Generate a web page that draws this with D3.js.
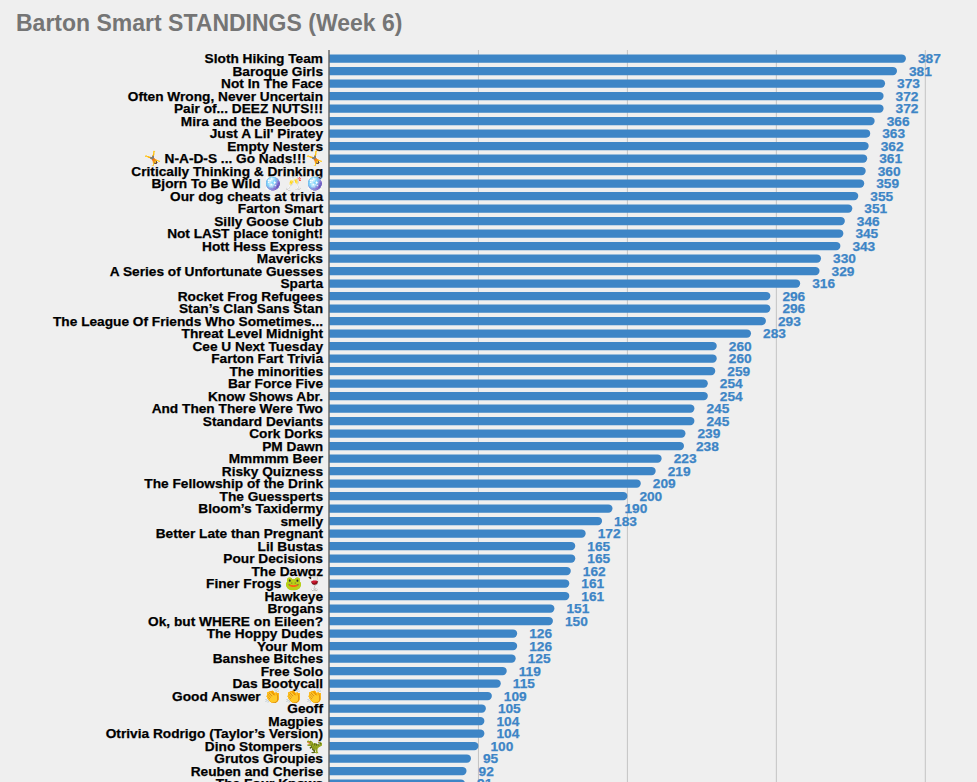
<!DOCTYPE html>
<html>
<head>
<meta charset="utf-8">
<script src="https://cdn.jsdelivr.net/npm/d3@7"></script>
<style>
  body { margin: 0; background: #efefef; font-family: Arial, "Liberation Sans", sans-serif; }
</style>
</head>
<body>
<script>
// standings data
var teams = [
  "Sloth Hiking Team", "Baroque Girls", "Not In The Face", "Often Wrong, Never Uncertain",
  "Pair of... DEEZ NUTS!!!", "Mira and the Beeboos", "Just A Lil' Piratey", "Empty Nesters",
  "🤸 N-A-D-S ... Go Nads!!!🤸", "Critically Thinking & Drinking", "Bjorn To Be Wild 🪩 🥂 🪩",
  "Our dog cheats at trivia", "Farton Smart", "Silly Goose Club", "Not LAST place tonight!",
  "Hott Hess Express", "Mavericks", "A Series of Unfortunate Guesses", "Sparta",
  "Rocket Frog Refugees", "Stan’s Clan Sans Stan", "The League Of Friends Who Sometimes...",
  "Threat Level Midnight", "Cee U Next Tuesday", "Farton Fart Trivia", "The minorities",
  "Bar Force Five", "Know Shows Abr.", "And Then There Were Two", "Standard Deviants",
  "Cork Dorks", "PM Dawn", "Mmmmm Beer", "Risky Quizness", "The Fellowship of the Drink",
  "The Guessperts", "Bloom’s Taxidermy", "smelly", "Better Late than Pregnant", "Lil Bustas",
  "Pour Decisions", "The Dawgz", "Finer Frogs 🐸 🍷", "Hawkeye", "Brogans",
  "Ok, but WHERE on Eileen?", "The Hoppy Dudes", "Your Mom", "Banshee Bitches", "Free Solo",
  "Das Bootycall", "Good Answer 👏 👏 👏", "Geoff", "Magpies", "Otrivia Rodrigo (Taylor’s Version)",
  "Dino Stompers 🦖", "Grutos Groupies", "Reuben and Cherise", "The Four Knows"
];

var points = [
  387, 381, 373, 372, 372, 366, 363, 362, 361, 360, 359, 355, 351, 346, 345, 343, 330, 329, 316,
  296, 296, 293, 283, 260, 260, 259, 254, 254, 245, 245, 239, 238, 223, 219, 209, 200, 190, 183,
  172, 165, 165, 162, 161, 161, 151, 150, 126, 126, 125, 119, 115, 109, 105, 104, 104, 100, 95,
  92, 91
];

var xTicks = [0, 100, 200, 300, 400];

var dataArray = teams.map(function(d, i) {
  return { name: d, value: points[i] };
});

var width = 977, height = 782;
var plotLeft = 329.5, plotRight = 925.3;
var plotTop = 52.25, step = 12.5;

var svg = d3.select("body").append("svg")
  .attr("width", width)
  .attr("height", height)
  .style("display", "block");

svg.append("rect")
  .attr("width", width)
  .attr("height", height)
  .attr("fill", "#efefef");

// title
svg.append("text")
  .attr("x", 16)
  .attr("y", 31)
  .attr("fill", "#757575")
  .attr("font-size", "23px")
  .attr("font-weight", "bold")
  .text("Barton Smart STANDINGS (Week 6)");

var x = d3.scaleLinear()
  .domain([0, 400])
  .range([plotLeft, plotRight]);

var y = d3.scaleBand()
  .domain(teams)
  .range([plotTop, plotTop + teams.length * step])
  .paddingInner(0.34)
  .paddingOuter(0.17);

// gridlines
svg.append("g")
  .selectAll("line")
  .data(xTicks.slice(1))
  .enter()
    .append("line")
      .attr("x1", function(d) { return x(d); })
      .attr("x2", function(d) { return x(d); })
      .attr("y1", 50)
      .attr("y2", height)
      .attr("stroke", "#c3c3c3")
      .attr("stroke-width", 1);

// bars, rounded at the end
var r = y.bandwidth() / 2;
svg.append("g")
  .selectAll("path")
  .data(dataArray)
  .enter()
    .append("path")
      .attr("fill", "#3d85c6")
      .attr("d", function(d) {
        var x0 = x(0), x1 = x(d.value), y0 = y(d.name), h = y.bandwidth();
        return "M" + x0 + "," + y0 +
          "H" + (x1 - r) +
          "A" + r + "," + r + " 0 0 1 " + (x1 - r) + "," + (y0 + h) +
          "H" + x0 + "Z";
      });

// zero axis line
svg.append("line")
  .attr("x1", x(0) - 0.5)
  .attr("x2", x(0) - 0.5)
  .attr("y1", 50)
  .attr("y2", height)
  .attr("stroke", "#222")
  .attr("stroke-width", 1);

// team names
svg.append("g")
  .selectAll("text")
  .data(dataArray)
  .enter()
    .append("text")
      .attr("x", 323)
      .attr("y", function(d) { return y(d.name) + y.bandwidth() / 2; })
      .attr("dy", "0.36em")
      .attr("text-anchor", "end")
      .attr("font-size", "13.7px")
      .attr("font-weight", "bold")
      .attr("fill", "#000")
      .attr("stroke", "#000")
      .attr("stroke-width", 0.25)
      .text(function(d) { return d.name; });

// value labels
svg.append("g")
  .selectAll("text")
  .data(dataArray)
  .enter()
    .append("text")
      .attr("x", function(d) { return x(d.value) + 12; })
      .attr("y", function(d) { return y(d.name) + y.bandwidth() / 2; })
      .attr("dy", "0.36em")
      .attr("font-size", "13.7px")
      .attr("font-weight", "bold")
      .attr("fill", "#3d85c6")
      .attr("stroke", "#3d85c6")
      .attr("stroke-width", 0.25)
      .text(function(d) { return d.value; });
</script>
</body>
</html>
